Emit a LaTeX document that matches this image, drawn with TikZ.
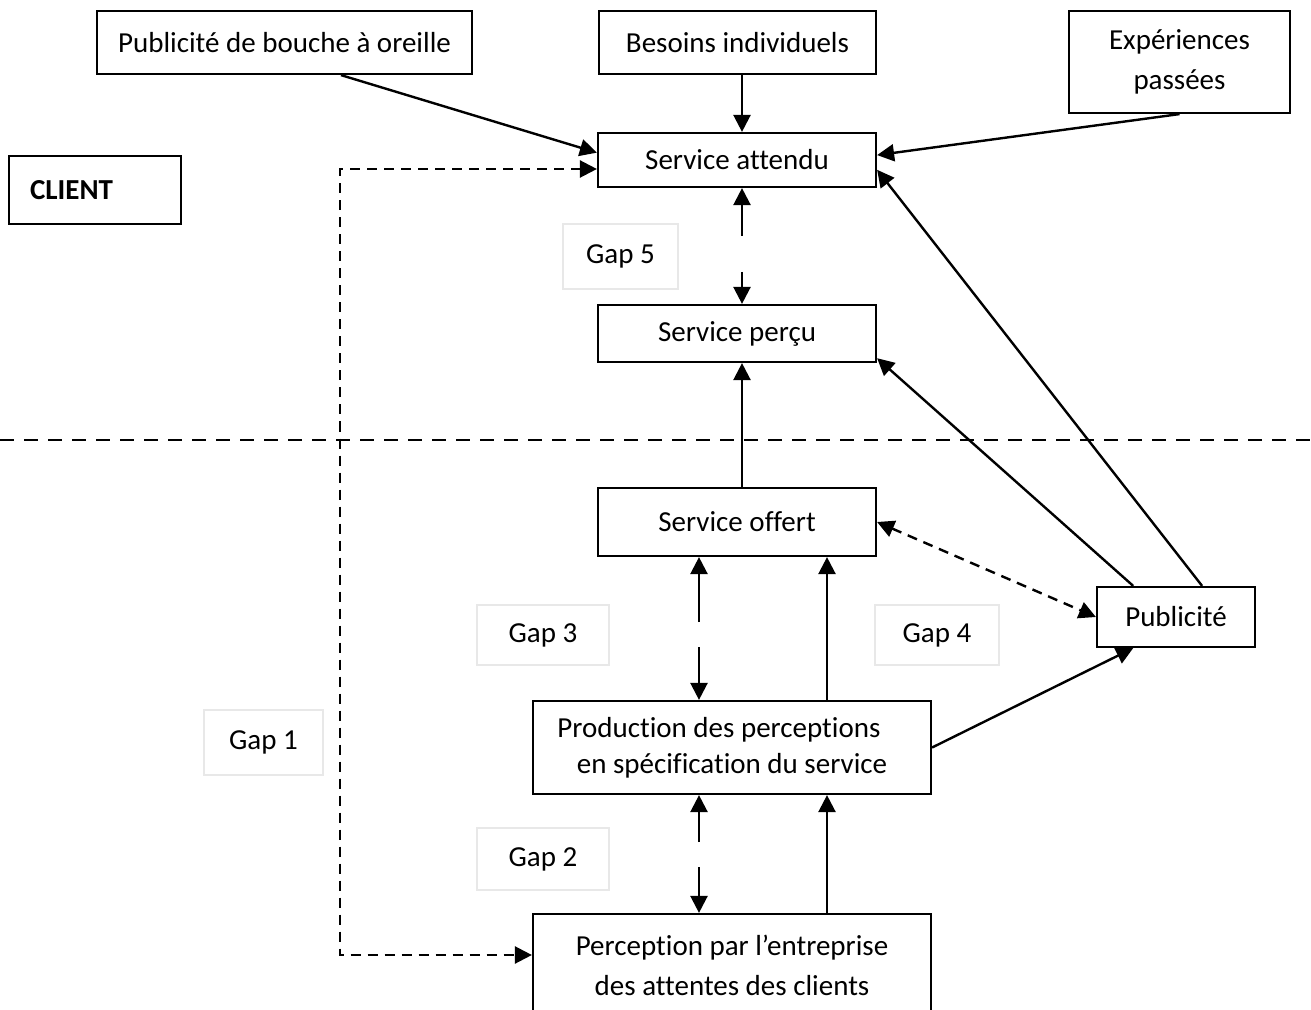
\documentclass[tikz,border=0pt]{standalone}
\usepackage{fontspec}
\setmainfont{Carlito}[Ligatures=NoCommon]
\usetikzlibrary{arrows.meta,positioning,calc}

\begin{document}
\begin{tikzpicture}[x=0.5pt, y=-0.5pt, >={Triangle[length=8.5pt, width=8.5pt]}, ->, line width=1.2pt,
  box/.style = {draw, line width=1.1pt, inner sep=0pt, align=center, font=\fontsize{14.5}{20}\selectfont},
  gapbox/.style = {draw=black!9, line width=0.8pt, inner sep=0pt, font=\fontsize{14.5}{20}\selectfont},
  gapline/.style = {dash pattern=on 5pt off 3.5pt},
  sepline/.style = {dash pattern=on 7pt off 5pt}]
\path[use as bounding box, clip] (0,0) rectangle (1311,1010);

\node[box, minimum width=187.5pt, minimum height=31.5pt] (bouche) at (284.5,42.5) {Publicité de bouche à oreille};
\node[box, minimum width=138.5pt, minimum height=31.5pt] (besoins) at (737.5,42.5) {Besoins individuels};
\node[box, minimum width=110.5pt, minimum height=51pt] (experiences) at (1179.5,62) {Expériences\\passées};
\node[box, minimum width=139pt, minimum height=27pt] (attendu) at (737,160) {Service attendu};
\node[box, minimum width=86pt, minimum height=34pt, text width=65pt, inner xsep=10.5pt, align=left, font=\fontsize{14.5}{20}\selectfont\bfseries] (client) at (95,190) {CLIENT};
\node[gapbox, minimum width=57.5pt, minimum height=32.5pt] (gap5) at (620.5,256.5) {Gap 5};
\node[box, minimum width=139pt, minimum height=28.5pt] (percu) at (737,333.5) {Service perçu};
\node[box, minimum width=139pt, minimum height=34pt] (offert) at (737,522) {Service offert};
\node[box, minimum width=79pt, minimum height=30pt] (publicite) at (1176,617) {Publicité};
\node[gapbox, minimum width=66pt, minimum height=30pt] (gap3) at (543,635) {Gap 3};
\node[gapbox, minimum width=62pt, minimum height=30pt] (gap4) at (937,635) {Gap 4};
\node[box, minimum width=199pt, minimum height=46.5pt, font=\fontsize{14.5}{18}\selectfont] (production) at (732,747.5) {Production des perceptions\hspace*{0.9em}\\en spécification du service};
\node[gapbox, minimum width=59.5pt, minimum height=32.5pt] (gap1) at (263.5,742.5) {Gap 1};
\node[gapbox, minimum width=66pt, minimum height=31pt] (gap2) at (543,859) {Gap 2};
\node[box, minimum width=199pt, minimum height=51pt] (perception) at (732,965) {Perception par l’entreprise\\des attentes des clients};

\coordinate (mid) at (742,0);
\coordinate (rcol) at (827,0);
\coordinate (lcol) at (340,0);
\coordinate (g5a) at (742,236);
\coordinate (g5b) at (742,272);
\coordinate (g3a) at (699,622);
\coordinate (g3b) at (699,647);
\coordinate (g2a) at (699,842);
\coordinate (g2b) at (699,867);

\draw[-, sepline] (0,440) -- (1311,440);

\path (bouche.-30) edge (attendu.177)
      (besoins.south -| mid) edge (attendu.north -| mid)
      (experiences.south) edge (attendu.2);
\path (g5a) edge (g5a |- attendu.south)
      (g5b) edge (g5b |- percu.north);
\path (mid |- offert.north) edge (mid |- percu.south);
\path (publicite.144) edge (percu.-10)
      (publicite.50) edge (attendu.-4)
      (production.east) edge (publicite.-144);
\path (offert.east) edge[<->, gapline] (publicite.west);
\path (g3a) edge (g3a |- offert.south)
      (g3b) edge (g3b |- production.north);
\path (rcol |- production.north) edge (rcol |- offert.south);
\path (g2a) edge (g2a |- production.south)
      (g2b) edge (g2b |- perception.north);
\path (rcol |- perception.north) edge (rcol |- production.south);
\draw[<->, gapline] ([yshift=-4.5pt]attendu.west) -| ([yshift=5pt]perception.west -| lcol) -- ([yshift=5pt]perception.west);
\end{tikzpicture}
\end{document}
